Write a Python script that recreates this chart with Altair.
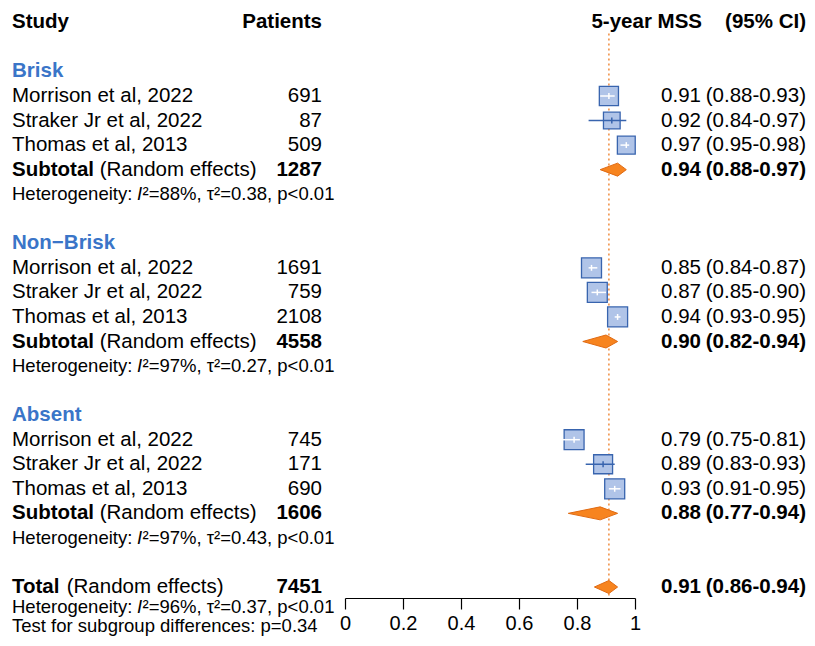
import math
import altair as alt
import pandas as pd

# ---------------- data ----------------
group_names = ["Brisk", "Non\u2212Brisk", "Absent"]
study_names = ["Morrison et al, 2022", "Straker Jr et al, 2022", "Thomas et al, 2013"]
patients = [[691, 87, 509], [1691, 759, 2108], [745, 171, 690]]
est = [[0.91, 0.92, 0.97], [0.85, 0.87, 0.94], [0.79, 0.89, 0.93]]
lower = [[0.88, 0.84, 0.95], [0.84, 0.85, 0.93], [0.75, 0.83, 0.91]]
upper = [[0.93, 0.97, 0.98], [0.87, 0.90, 0.95], [0.81, 0.93, 0.95]]
weights = [[10.8, 8.2, 9.4], [11.8, 11.7, 11.8], [11.7, 10.6, 11.8]]
sub_patients = [1287, 4558, 1606]
sub_est = [0.94, 0.90, 0.88]
sub_lower = [0.88, 0.82, 0.77]
sub_upper = [0.97, 0.94, 0.94]
het_i2 = [88, 97, 97]
het_tau2 = [0.38, 0.27, 0.43]
het_p = ["p<0.01", "p<0.01", "p<0.01"]
total_patients = 7451
total_est, total_lower, total_upper = 0.91, 0.86, 0.94
total_i2, total_tau2, total_p = 96, 0.37, "p<0.01"
subgroup_test_p = "p=0.34"
axis_ticks = [0, 0.2, 0.4, 0.6, 0.8, 1]

# ---------------- style / layout ----------------
FONT = "Liberation Sans"
FS = 20.5          # main text size
FS2 = 18.5         # heterogeneity text size
BLUE_TXT = "#3A75C8"
SQ_FILL = "#B0C4E8"
SQ_LINE = "#3864AE"
OR_FILL = "#F7841F"
OR_LINE = "#E06A12"
MAX_SIDE = 20.0
PLOT_W = 290
PLOT_H = 590
ROW_PX = 24.55
TOP_PX = 14.35
DIAMOND_H = 0.265
HET_TOTAL_POS = 23.8    # squeezed bottom rows
TEST_POS = 24.58

yscale = alt.Scale(domain=[-TOP_PX / ROW_PX, (PLOT_H - TOP_PX) / ROW_PX],
                   reverse=True, nice=False, zero=False)
xscale = alt.Scale(domain=[0, 1], nice=False, zero=False)
xaxis = alt.Axis(values=axis_ticks, format="~g", title=None, grid=False,
                 domainColor="black", domainWidth=1.2, tickColor="black",
                 tickWidth=1.2, tickSize=11, labelFont=FONT, labelFontSize=20,
                 labelColor="black", labelPadding=4, labelFlush=False,
                 labelOverlap=False)

def Y(field="row"):
    return alt.Y(f"{field}:Q", scale=yscale, axis=None, stack=None)

def X(field):
    return alt.X(f"{field}:Q", scale=xscale, axis=xaxis)

# ---------------- tables ----------------
fmt = lambda v: f"{v:.2f}"
ci = lambda l, u: f"({l:.2f}-{u:.2f})"
wmax = max(max(w) for w in weights)

group_rows, study_rows, sub_rows, het_rows, dia_rows = [], [], [], [], []
r = 2
for g in range(3):
    group_rows.append({"row": r, "text": group_names[g]})
    for s in range(3):
        row = r + 1 + s
        side = MAX_SIDE * math.sqrt(weights[g][s] / wmax)
        hw = side / 2 / PLOT_W
        inside = (lower[g][s] >= est[g][s] - hw - 0.006) and (upper[g][s] <= est[g][s] + hw + 0.006)
        study_rows.append({"row": row, "name": study_names[s], "n": str(patients[g][s]),
                           "est": est[g][s], "lower": lower[g][s], "upper": upper[g][s],
                           "w": weights[g][s], "e": fmt(est[g][s]),
                           "ci": ci(lower[g][s], upper[g][s]),
                           "lc": "white" if inside else SQ_LINE,
                           "ylo": row - 0.12, "yhi": row + 0.12})
    srow = r + 4
    sub_rows.append({"row": srow, "label": "Subtotal", "n": str(sub_patients[g]),
                     "e": fmt(sub_est[g]), "ci": ci(sub_lower[g], sub_upper[g])})
    dia_rows.append((srow, sub_est[g], sub_lower[g], sub_upper[g]))
    het_rows.append({"row": r + 5, "rest": f"\u00b2={het_i2[g]}%, \u03c4\u00b2={het_tau2[g]:.2f}, {het_p[g]}"})
    r += 7

total_row = {"row": r, "label": "Total", "n": str(total_patients),
             "e": fmt(total_est), "ci": ci(total_lower, total_upper)}
dia_rows.append((r, total_est, total_lower, total_upper))
het_rows.append({"row": HET_TOTAL_POS, "rest": f"\u00b2={total_i2}%, \u03c4\u00b2={total_tau2:.2f}, {total_p}"})
test_row = {"row": TEST_POS, "text": f"Test for subgroup differences: {subgroup_test_p}"}

studies = pd.DataFrame(study_rows)
groups = pd.DataFrame(group_rows)
subs = pd.DataFrame(sub_rows)
tot = pd.DataFrame([total_row])
sumrows = pd.DataFrame(sub_rows + [total_row])
het = pd.DataFrame(het_rows)
test = pd.DataFrame([test_row])
header = pd.DataFrame([{"row": 0}])

dpts = []
for i, (row, e, l, u) in enumerate(dia_rows):
    dpts += [{"id": i, "x": l, "y": row, "y2": row},
             {"id": i, "x": e, "y": row - DIAMOND_H, "y2": row + DIAMOND_H},
             {"id": i, "x": u, "y": row, "y2": row}]
diamonds = pd.DataFrame(dpts)
refline = pd.DataFrame([{"x": total_est, "y": 0.45, "y2": r + 0.45}])

# ---------------- layers ----------------
def text(df, field, xpx, align="left", size=FS, weight="normal", color="black", style="normal"):
    return alt.Chart(df).mark_text(align=align, baseline="middle", font=FONT, fontSize=size,
                                   fontWeight=weight, fontStyle=style, color=color).encode(
        x=alt.value(xpx), y=Y(), text=alt.Text(f"{field}:N"))

def const_text(df, s, xpx, align="left", size=FS, weight="normal", style="normal"):
    return alt.Chart(df).mark_text(align=align, baseline="middle", font=FONT, fontSize=size,
                                   fontWeight=weight, fontStyle=style, color="black").encode(
        x=alt.value(xpx), y=Y(), text=alt.value(s))

LEFT = -333
PAT_R = -23
EST_R = 356
CI_R = 461

ref = alt.Chart(refline).mark_rule(color="#F08A3C", strokeDash=[2, 3], strokeWidth=1.5).encode(
    x=X("x"), y=Y("y"), y2="y2:Q")
dia = alt.Chart(diamonds).mark_area(color=OR_FILL, stroke=OR_LINE, strokeWidth=1,
                                    opacity=1, orient="vertical").encode(
    x=X("x"), y=Y("y"), y2="y2:Q", detail="id:N")
squares = alt.Chart(studies).mark_square(filled=True, color=SQ_FILL, stroke=SQ_LINE,
                                         strokeWidth=1.3, opacity=1).encode(
    x=X("est"), y=Y(),
    size=alt.Size("w:Q", scale=alt.Scale(domain=[0, wmax], range=[0, MAX_SIDE ** 2]), legend=None))
cilines = alt.Chart(studies).mark_rule(strokeWidth=1.5).encode(
    x=X("lower"), x2="upper:Q", y=Y(), color=alt.Color("lc:N", scale=None))
ticks = alt.Chart(studies).mark_rule(strokeWidth=1.5).encode(
    x=X("est"), y=Y("ylo"), y2="yhi:Q", color=alt.Color("lc:N", scale=None))

layers = [
    ref, dia, squares, cilines, ticks,
    const_text(header, "Study", LEFT, weight="bold"),
    const_text(header, "Patients", PAT_R, align="right", weight="bold"),
    const_text(header, "5-year MSS", EST_R + 1, align="right", weight="bold"),
    const_text(header, "(95% CI)", CI_R, align="right", weight="bold"),
    text(groups, "text", LEFT, weight="bold", color=BLUE_TXT),
    text(studies, "name", LEFT),
    text(studies, "n", PAT_R, align="right"),
    text(studies, "e", EST_R, align="right"),
    text(studies, "ci", CI_R, align="right"),
    text(sumrows, "label", LEFT, weight="bold"),
    const_text(subs, "(Random effects)", -245.3),
    const_text(tot, "(Random effects)", -278.3),
    text(sumrows, "n", PAT_R, align="right", weight="bold"),
    text(sumrows, "e", EST_R, align="right", weight="bold"),
    text(sumrows, "ci", CI_R, align="right", weight="bold"),
    const_text(het, "Heterogeneity:", LEFT, size=FS2),
    const_text(het, "I", -208, size=FS2, style="italic"),
    text(het, "rest", -202.5, size=FS2),
    text(test, "text", LEFT, size=FS2),
]

chart = alt.layer(*layers).properties(
    width=PLOT_W, height=PLOT_H,
    autosize=alt.AutoSizeParams(type="none"),
    padding={"left": 337, "top": 0, "right": 172, "bottom": 40},
    background="white",
).configure_view(stroke=None)

chart.save("out.html", embed_options={"renderer": "svg", "actions": False})
